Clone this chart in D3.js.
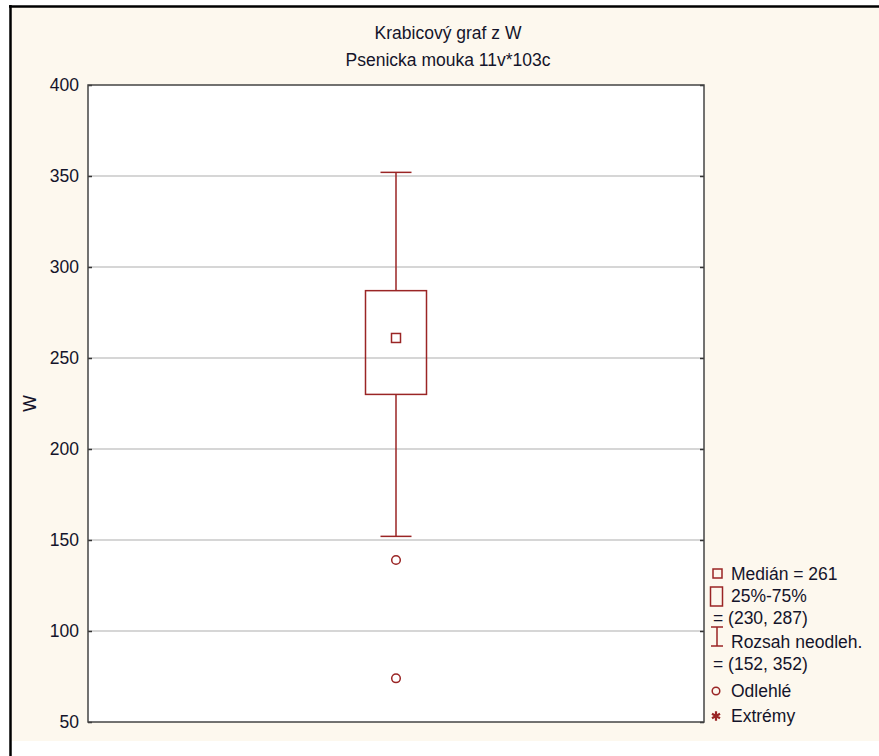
<!DOCTYPE html>
<html>
<head>
<meta charset="utf-8">
<script src="https://cdn.jsdelivr.net/npm/d3@7"></script>
<style>
  body { margin: 0; background: #fff; }
  svg { display: block; font-family: "Liberation Sans", Arial, sans-serif; }
</style>
</head>
<body>
<svg id="chart" width="879" height="756"></svg>
<script>
// data
var variable = "W"
var median = 261
var quartiles = [230, 287]
var whiskers = [152, 352]
var outliers = [139, 74]
var yTicks = [50, 100, 150, 200, 250, 300, 350, 400]
var titles = ["Krabicový graf z W", "Psenicka mouka 11v*103c"]
var legendLabels = ["Medián = " + median, "25%-75%", "= (" + quartiles.join(", ") + ")",
  "Rozsah neodleh.", "= (" + whiskers.join(", ") + ")", "Odlehlé", "Extrémy"]

var red = "#9a2525"
var textColor = "#14142a"
var plot = {left: 88, right: 704, top: 85, bottom: 722}

var svg = d3.select("#chart")

// backgrounds and outer frame
svg.append("rect").attr("x", 11).attr("y", 7).attr("width", 868).attr("height", 734).attr("fill", "#fdf8ee")
svg.append("line").attr("x1", 10.5).attr("x2", 10.5).attr("y1", 5).attr("y2", 756)
  .attr("stroke", "#000").attr("stroke-width", 2.5)
svg.append("line").attr("x1", 9).attr("x2", 879).attr("y1", 6.5).attr("y2", 6.5)
  .attr("stroke", "#000").attr("stroke-width", 2.5)

var y = d3.scaleLinear().domain([50, 400]).range([plot.bottom, plot.top])
var x = d3.scaleBand().domain([variable]).range([plot.left, plot.right])
var cx = x(variable) + x.bandwidth() / 2

svg.append("rect")
  .attr("x", plot.left).attr("y", plot.top)
  .attr("width", plot.right - plot.left).attr("height", plot.bottom - plot.top)
  .attr("fill", "#fff")

// gridlines
svg.append("g").selectAll("line")
  .data(yTicks.filter(function(d) { return d > 50 && d < 400 }))
  .join("line")
    .attr("x1", plot.left).attr("x2", plot.right)
    .attr("y1", function(d) { return y(d) }).attr("y2", function(d) { return y(d) })
    .attr("stroke", "#c8c8c8").attr("stroke-width", 1.5)

// axes
var yAxis = svg.append("g")
  .attr("transform", `translate(${plot.left},0)`)
  .call(d3.axisRight(y).tickValues(yTicks).tickSize(4).tickFormat(""))
yAxis.select(".domain").remove()
yAxis.selectAll("line").attr("stroke", "#333").attr("stroke-width", 1.5)

var yAxisR = svg.append("g")
  .attr("transform", `translate(${plot.right},0)`)
  .call(d3.axisLeft(y).tickValues(yTicks).tickSize(4).tickFormat(""))
yAxisR.select(".domain").remove()
yAxisR.selectAll("line").attr("stroke", "#333").attr("stroke-width", 1.5)

svg.append("g").selectAll("text")
  .data(yTicks)
  .join("text")
    .attr("x", 79)
    .attr("y", function(d) { return y(d) })
    .attr("dy", "0.36em")
    .attr("text-anchor", "end")
    .attr("font-size", 17.5)
    .attr("fill", textColor)
    .text(function(d) { return d })

svg.append("rect")
  .attr("x", plot.left).attr("y", plot.top)
  .attr("width", plot.right - plot.left).attr("height", plot.bottom - plot.top)
  .attr("fill", "none").attr("stroke", "#444").attr("stroke-width", 1.5)

svg.append("text")
  .attr("transform", `translate(36,${(plot.top + plot.bottom) / 2}) rotate(-90)`)
  .attr("text-anchor", "middle")
  .attr("font-size", 17.5)
  .attr("fill", textColor)
  .text(variable)

// titles
svg.append("g").selectAll("text")
  .data(titles)
  .join("text")
    .attr("x", 448)
    .attr("y", function(d, i) { return 39 + i * 27 })
    .attr("text-anchor", "middle")
    .attr("font-size", 17.5)
    .attr("fill", textColor)
    .text(function(d) { return d })

// box plot
var box = svg.append("g").attr("stroke", red).attr("fill", "none").attr("stroke-width", 1.5)
var boxW = 61, capW = 31

box.append("line").attr("x1", cx).attr("x2", cx).attr("y1", y(whiskers[1])).attr("y2", y(quartiles[1]))
box.append("line").attr("x1", cx).attr("x2", cx).attr("y1", y(quartiles[0])).attr("y2", y(whiskers[0]))
box.selectAll(".cap")
  .data(whiskers)
  .join("line")
    .attr("class", "cap")
    .attr("x1", cx - capW / 2).attr("x2", cx + capW / 2)
    .attr("y1", function(d) { return y(d) }).attr("y2", function(d) { return y(d) })
box.append("rect")
  .attr("x", cx - boxW / 2).attr("y", y(quartiles[1]))
  .attr("width", boxW).attr("height", y(quartiles[0]) - y(quartiles[1]))
box.append("rect")
  .attr("x", cx - 4.5).attr("y", y(median) - 4.5)
  .attr("width", 9).attr("height", 9)
box.selectAll("circle")
  .data(outliers)
  .join("circle")
    .attr("cx", cx).attr("cy", function(d) { return y(d) })
    .attr("r", 4.3)

// legend
var lx = 731
var legendY = [580, 602, 624, 648, 670, 697, 722]
svg.append("g").selectAll("text")
  .data(legendLabels)
  .join("text")
    .attr("x", function(d, i) { return (i == 2 || i == 4) ? 713 : lx })
    .attr("y", function(d, i) { return legendY[i] })
    .attr("font-size", 17.5)
    .attr("fill", textColor)
    .text(function(d) { return d })

var lg = svg.append("g").attr("stroke", red).attr("fill", "none").attr("stroke-width", 1.5)
lg.append("rect").attr("x", 713).attr("y", 569).attr("width", 9).attr("height", 9)
lg.append("rect").attr("x", 710.5).attr("y", 587).attr("width", 12).attr("height", 19)
lg.append("line").attr("x1", 717).attr("x2", 717).attr("y1", 627).attr("y2", 646)
lg.append("line").attr("x1", 711).attr("x2", 723).attr("y1", 627).attr("y2", 627)
lg.append("line").attr("x1", 711).attr("x2", 723).attr("y1", 646).attr("y2", 646)
lg.append("circle").attr("cx", 716).attr("cy", 691).attr("r", 3.8)
svg.append("path")
  .attr("transform", "translate(716,716)")
  .attr("d", d3.symbol(d3.symbolAsterisk, 60))
  .attr("stroke", red).attr("stroke-width", 2.2).attr("fill", red)
</script>
</body>
</html>
